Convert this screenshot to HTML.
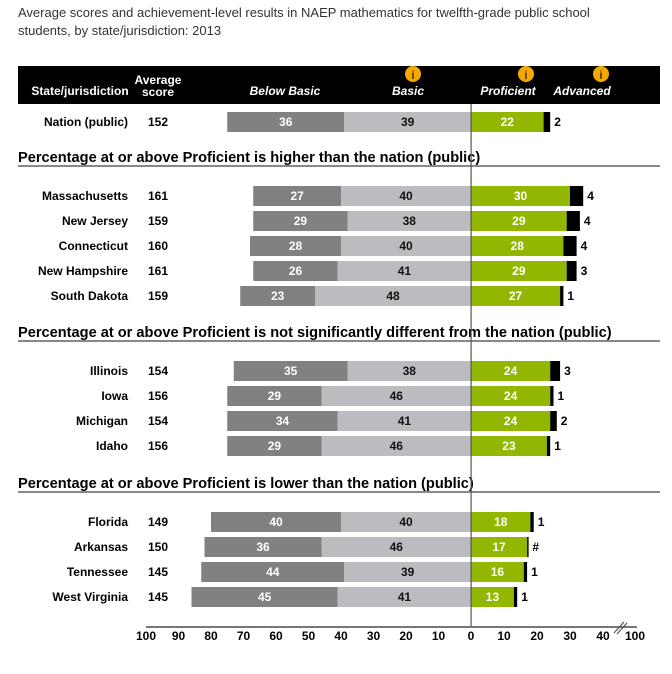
<!DOCTYPE html>
<html><head><meta charset="utf-8"><style>
body{margin:0;background:#fff;font-family:"Liberation Sans",Arial,sans-serif;}
svg text{font-family:"Liberation Sans",Arial,sans-serif;}
</style></head><body>
<svg id="c" width="672" height="669" xmlns="http://www.w3.org/2000/svg">
<text x="18" y="17" font-size="13" fill="#333">Average scores and achievement-level results in NAEP mathematics for twelfth-grade public school</text>
<text x="18" y="35" font-size="13" fill="#333">students, by state/jurisdiction: 2013</text>
<rect x="18" y="66" width="642" height="38" fill="#000"/>
<g font-size="12" font-weight="bold" fill="#fff">
<text x="80" y="95" text-anchor="middle">State/jurisdiction</text>
<text x="158" y="84" text-anchor="middle">Average</text>
<text x="158" y="96" text-anchor="middle">score</text>
<text x="285" y="95" text-anchor="middle" font-style="italic">Below Basic</text>
<text x="408" y="95" text-anchor="middle" font-style="italic">Basic</text>
<text x="508" y="95" text-anchor="middle" font-style="italic">Proficient</text>
<text x="582" y="95" text-anchor="middle" font-style="italic">Advanced</text>
</g>
<g>
<circle cx="413" cy="74" r="8" fill="#f5a800"/>
<text x="413" y="79" font-size="12" text-anchor="middle" fill="#000">i</text>
<circle cx="526" cy="74" r="8" fill="#f5a800"/>
<text x="526" y="79" font-size="12" text-anchor="middle" fill="#000">i</text>
<circle cx="601" cy="74" r="8" fill="#f5a800"/>
<text x="601" y="79" font-size="12" text-anchor="middle" fill="#000">i</text>
</g>
</svg>
<script>
const states=["Nation (public)","Massachusetts","New Jersey","Connecticut","New Hampshire","South Dakota","Illinois","Iowa","Michigan","Idaho","Florida","Arkansas","Tennessee","West Virginia"];
const scores=[152,161,159,160,161,159,154,156,154,156,149,150,145,145];
const belowBasic=[36,27,29,28,26,23,35,29,34,29,40,36,44,45];
const basic=[39,40,38,40,41,48,38,46,41,46,40,46,39,41];
const proficient=[22,30,29,28,29,27,24,24,24,23,18,17,16,13];
const advanced=[2,4,4,4,3,1,3,1,2,1,1,0.4,1,1];
const advancedLabels=["2","4","4","4","3","1","3","1","2","1","1","#","1","1"];
const rowY=[122,196,221,246,271,296,371,396,421,446,522,547,572,597];
const sections=["Percentage at or above Proficient is higher than the nation (public)","Percentage at or above Proficient is not significantly different from the nation (public)","Percentage at or above Proficient is lower than the nation (public)"];
const sectionY=[157,332,483];
const leftTicks=[100,90,80,70,60,50,40,30,20,10,0];
const rightTicks=[10,20,30,40];
const NS="http://www.w3.org/2000/svg";
const svg=document.getElementById('c');
const X0=471,SL=3.25,SR=3.3;
const xl=v=>X0-v*SL, xr=v=>X0+v*SR;
function mk(t,a,txt){const e=document.createElementNS(NS,t);for(const k in a)e.setAttribute(k,a[k]);if(txt!==undefined)e.textContent=txt;svg.appendChild(e);return e;}
sections.forEach((s,i)=>{
 const t=mk('text',{x:18,y:sectionY[i]+5,'font-size':14.6,'font-weight':'bold',fill:'#000'},s);
 
 
 const l=mk('rect',{x:18,y:sectionY[i]+8,width:642,height:2,fill:'#888'});
 
 
});
states.forEach((s,i)=>{
 const y=rowY[i],h=20,ty=y+4;
 const n=mk('text',{x:128,y:ty,'font-size':12,'font-weight':'bold','text-anchor':'end'},s);
 
 
 const sc=mk('text',{x:148,y:ty,'font-size':12,'font-weight':'bold'},scores[i]);
 
 
 const bb=mk('rect',{x:xl(belowBasic[i]+basic[i]),y:y-h/2,width:belowBasic[i]*SL,height:h,fill:'#818184'});
 
 
 const bt=mk('text',{x:xl(basic[i]+belowBasic[i]/2),y:ty,'font-size':12,'font-weight':'bold','text-anchor':'middle',fill:'#fff'},belowBasic[i]);
 
 
 const ba=mk('rect',{x:xl(basic[i]),y:y-h/2,width:basic[i]*SL,height:h,fill:'#bcbcc0'});
 
 
 const bat=mk('text',{x:xl(basic[i]/2),y:ty,'font-size':12,'font-weight':'bold','text-anchor':'middle',fill:'#111'},basic[i]);
 
 
 const p=mk('rect',{x:X0,y:y-h/2,width:proficient[i]*SR,height:h,fill:'#92b700'});
 
 
 const pt=mk('text',{x:xr(proficient[i]/2),y:ty,'font-size':12,'font-weight':'bold','text-anchor':'middle',fill:'#fff'},proficient[i]);
 
 
 const a=mk('rect',{x:xr(proficient[i]),y:y-h/2,width:Math.max(advanced[i]*SR,1.5),height:h,fill:'#000'});
 
 
 const at=mk('text',{x:xr(proficient[i]+advanced[i])+4,y:ty,'font-size':12,'font-weight':'bold'},advancedLabels[i]);
 
 
});
const zl=mk('rect',{x:X0-0.5,y:104,width:1.2,height:524,fill:'#555'});


const ax=mk('rect',{x:146,y:626,width:491,height:2,fill:'#777'});


const br=mk('path',{d:'M614 633 L624 622 M617 634 L627 623',stroke:'#555','stroke-width':1.2,fill:'none'});


leftTicks.forEach(v=>{
 const t=mk('text',{x:xl(v),y:640,'font-size':12,'font-weight':'bold','text-anchor':'middle'},v);
 
 
});
rightTicks.forEach(v=>{
 const t=mk('text',{x:xr(v),y:640,'font-size':12,'font-weight':'bold','text-anchor':'middle'},v);
 
 
});
const t100=mk('text',{x:635,y:640,'font-size':12,'font-weight':'bold','text-anchor':'middle'},'100');


</script>
</body></html>
